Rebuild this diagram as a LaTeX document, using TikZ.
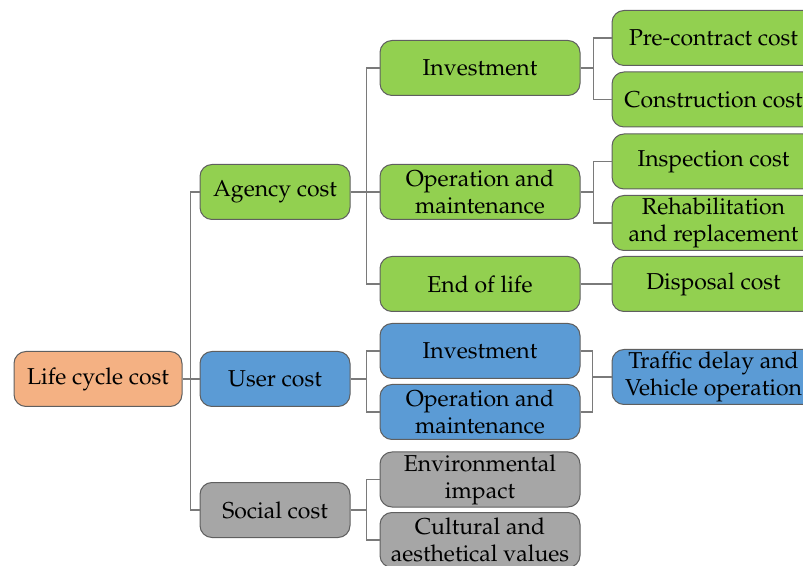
\documentclass[tikz,border=0pt]{standalone}
\usepackage[T1]{fontenc}
\usepackage{mathpazo}
\usepackage{xcolor}
\definecolor{rootfill}{HTML}{F4B183}
\definecolor{agencyfill}{HTML}{92D050}
\definecolor{userfill}{HTML}{5B9BD5}
\definecolor{socialfill}{HTML}{A6A6A6}
\definecolor{edge}{HTML}{5F5F5F}
\definecolor{wire}{HTML}{7A7A7A}
\tikzset{
  box/.style ={draw=edge, line width=0.5pt, rounded corners=6pt, align=center,
    inner sep=0pt, minimum height=27.5pt,
    font=\fontsize{11.5}{13.5}\selectfont},
  rootbox/.style ={box, fill=rootfill, minimum width=84pt},
  lvlone/.style ={box, minimum width=75pt},
  lvltwo/.style ={box, minimum width=100pt},
  lvlthree/.style ={box, minimum width=101.5pt},
  line/.style ={draw=wire, line width=0.9pt}
}

\begin{document}
\begin{tikzpicture}[x=0.5pt,y=-0.5pt]
	\clip (0,0) rectangle (803,566);
	% root and first level
	\node[rootbox] (lcc) at (98,379) {Life cycle cost};
	\node[lvlone,fill=agencyfill] (agency) at (275,192) {Agency cost};
	\node[lvlone,fill=userfill] (user) at (275,379) {User cost};
	\node[lvlone,fill=socialfill] (social) at (275,510) {Social cost};
	% second level
	\node[lvltwo,fill=agencyfill] (ainv) at (480,68) {Investment};
	\node[lvltwo,fill=agencyfill] (aom) at (480,192) {Operation and\\maintenance};
	\node[lvltwo,fill=agencyfill] (aeol) at (480,284) {End of life};
	\node[lvltwo,fill=userfill] (uinv) at (480,351) {Investment};
	\node[lvltwo,fill=userfill] (uom) at (480,412) {Operation and\\maintenance};
	\node[lvltwo,fill=socialfill] (env) at (480,479.5) {Environmental\\impact};
	\node[lvltwo,fill=socialfill] (cult) at (480,540) {Cultural and\\aesthetical values};
	% third level
	\node[lvlthree,fill=agencyfill] (pre) at (713.5,38) {Pre-contract cost};
	\node[lvlthree,fill=agencyfill] (constr) at (713.5,99.5) {Construction cost};
	\node[lvlthree,fill=agencyfill] (insp) at (713.5,161.5) {Inspection cost};
	\node[lvlthree,fill=agencyfill] (rehab) at (713.5,223) {Rehabilitation\\and replacement};
	\node[lvlthree,fill=agencyfill] (disp) at (713.5,284) {Disposal cost};
	\node[lvlthree,fill=userfill] (traffic) at (713.5,377) {Traffic delay and\\Vehicle operation};
	% connectors
	\foreach \c in {agency,user,social}
		\draw[line] (lcc.east) -- ++(8,0) |- (\c.west);
	\foreach \c in {ainv,aom,aeol}
		\draw[line] (agency.east) -- ++(16,0) |- (\c.west);
	\foreach \c in {uinv,uom}
		\draw[line] (user.east) -- ++(16,0) |- (\c.west);
	\foreach \c in {env,cult}
		\draw[line] (social.east) -- ++(16,0) |- (\c.west);
	\foreach \c in {pre,constr}
		\draw[line] (ainv.east) -- ++(13,0) |- (\c.west);
	\foreach \c in {insp,rehab}
		\draw[line] (aom.east) -- ++(13,0) |- (\c.west);
	\draw[line] (aeol.east) -- (disp.west);
	\draw[line] (uinv.east) -- ++(12,0) |- (traffic.west);
	\draw[line] (uom.east) -- ++(12,0) |- (traffic.west);
\end{tikzpicture}
\end{document}
